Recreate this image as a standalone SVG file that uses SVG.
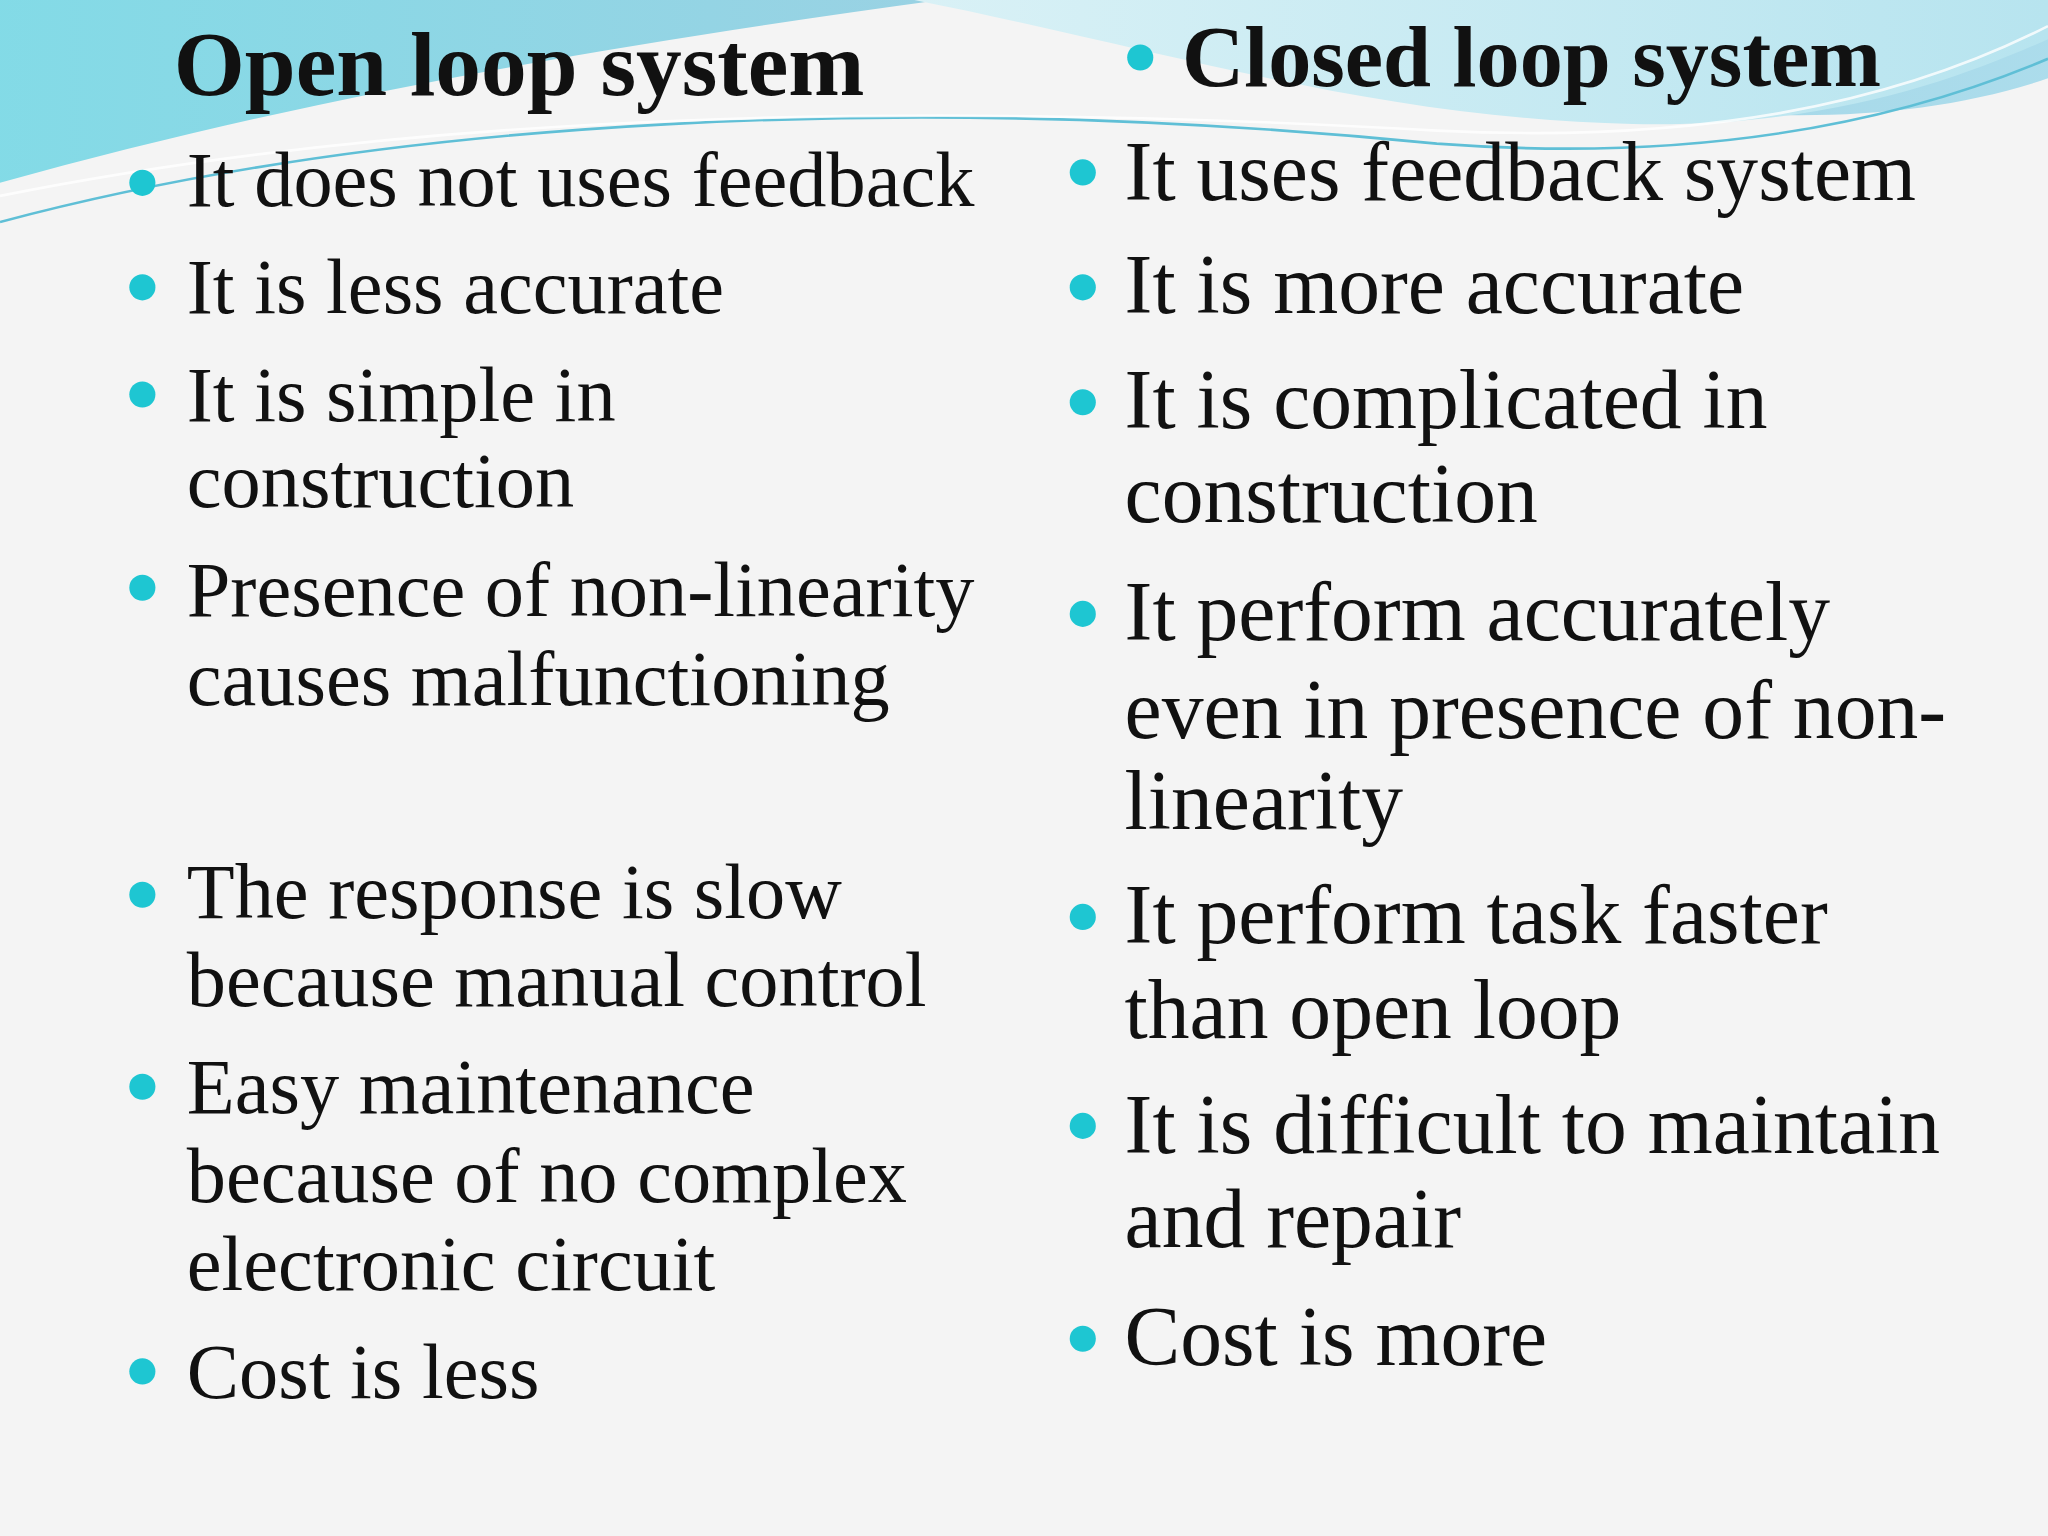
<svg xmlns="http://www.w3.org/2000/svg" width="2048" height="1536" viewBox="0 0 2048 1536">
<defs>
<linearGradient id="w1" x1="0" y1="0" x2="1" y2="0"><stop offset="0" stop-color="#6fd6e4"/><stop offset="0.5" stop-color="#8ccbe0"/><stop offset="1" stop-color="#9fd8ea"/></linearGradient>
<linearGradient id="w2" x1="0" y1="0" x2="1" y2="0"><stop offset="0" stop-color="#d9f1f6"/><stop offset="1" stop-color="#b7e4ef"/></linearGradient>
<style>
.t{font-family:"Liberation Serif","DejaVu Serif",serif;fill:#111}
.h{font-weight:bold}
.hl{font-size:70px}
.hr{font-size:66px}
.l{font-size:60px}
.r{font-size:64px}
.b{fill:#1ec6d2}
</style>
</defs>
<g transform="scale(1.30612)">
<rect width="1568" height="1176" fill="#f4f4f4"/>
<g id="bg">
<path d="M0,0 H1568 V60 C1450,100 1300,95 1150,60 C950,20 800,-10 720,0 C500,30 250,70 0,140 Z" fill="url(#w1)" opacity="0.85"/>
<path d="M700,0 C900,40 1050,90 1250,95 C1400,98 1500,60 1568,30 V0 Z" fill="url(#w2)"/>
<path d="M0,170 C300,90 700,70 1100,110 C1300,125 1450,95 1568,45" fill="none" stroke="#5fbfd6" stroke-width="2"/>
<path d="M0,150 C350,80 750,80 1100,100 C1300,110 1450,80 1568,20" fill="none" stroke="#ffffff" stroke-width="2" opacity="0.8"/>
</g>
<g id="left">
<text class="t h hl" x="133" y="73">Open loop system</text>
<circle class="b" cx="109" cy="140" r="10"/><text class="t l" x="143" y="158">It does not uses feedback</text>
<circle class="b" cx="109" cy="220" r="10"/><text class="t l" x="143" y="240">It is less accurate</text>
<circle class="b" cx="109" cy="302" r="10"/><text class="t l" x="143" y="322">It is simple in</text>
<text class="t l" x="143" y="388">construction</text>
<circle class="b" cx="109" cy="450" r="10"/><text class="t l" x="143" y="472">Presence of non-linearity</text>
<text class="t l" x="143" y="540">causes malfunctioning</text>
<circle class="b" cx="109" cy="685" r="10"/><text class="t l" x="143" y="703">The response is slow</text>
<text class="t l" x="143" y="770">because manual control</text>
<circle class="b" cx="109" cy="832" r="10"/><text class="t l" x="143" y="852">Easy maintenance</text>
<text class="t l" x="143" y="920">because of no complex</text>
<text class="t l" x="143" y="988">electronic circuit</text>
<circle class="b" cx="109" cy="1050" r="10"/><text class="t l" x="143" y="1070">Cost is less</text>
</g>
<g id="right">
<circle class="b" cx="873" cy="44" r="10"/><text class="t h hr" x="905" y="66">Closed loop system</text>
<circle class="b" cx="829" cy="132" r="10"/><text class="t r" x="861" y="153">It uses feedback system</text>
<circle class="b" cx="829" cy="220" r="10"/><text class="t r" x="861" y="240">It is more accurate</text>
<circle class="b" cx="829" cy="308" r="10"/><text class="t r" x="861" y="328">It is complicated in</text>
<text class="t r" x="861" y="400">construction</text>
<circle class="b" cx="829" cy="470" r="10"/><text class="t r" x="861" y="490">It perform accurately</text>
<text class="t r" x="861" y="565">even in presence of non-</text>
<text class="t r" x="861" y="635">linearity</text>
<circle class="b" cx="829" cy="702" r="10"/><text class="t r" x="861" y="722">It perform task faster</text>
<text class="t r" x="861" y="795">than open loop</text>
<circle class="b" cx="829" cy="862" r="10"/><text class="t r" x="861" y="883">It is difficult to maintain</text>
<text class="t r" x="861" y="955">and repair</text>
<circle class="b" cx="829" cy="1025" r="10"/><text class="t r" x="861" y="1045">Cost is more</text>
</g>
</g>
</svg>
